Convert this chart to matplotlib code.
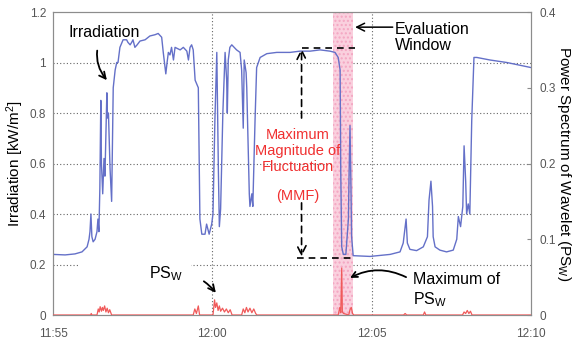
import matplotlib
matplotlib.use("Agg")
import matplotlib.pyplot as plt
from matplotlib.patches import Rectangle

plt.rcParams['font.family'] = ['Liberation Sans', 'DejaVu Sans']
plt.rcParams['mathtext.fontset'] = 'custom'
plt.rcParams['mathtext.rm'] = 'Liberation Sans'
plt.rcParams['mathtext.it'] = 'Liberation Sans'

# minutes after 11:55 and irradiation [kW/m2]
irr_t = [0.00, 0.38, 0.69, 0.91, 1.07, 1.13, 1.16, 1.19, 1.22, 1.26, 1.32, 1.38, 1.41, 1.44,
         1.47, 1.50, 1.52, 1.56, 1.60, 1.63, 1.69, 1.71, 1.74, 1.79, 1.84, 1.89, 1.95, 2.00,
         2.04, 2.10, 2.20, 2.31, 2.35, 2.42, 2.47, 2.51, 2.57, 2.64, 2.73, 2.89, 3.04, 3.20,
         3.30, 3.41, 3.46, 3.54, 3.58, 3.62, 3.67, 3.72, 3.78, 3.83, 3.99, 4.09, 4.20, 4.25,
         4.30, 4.35, 4.40, 4.46, 4.56, 4.61, 4.67, 4.77, 4.82, 4.90, 4.98, 5.02, 5.08, 5.14,
         5.19, 5.22, 5.26, 5.33, 5.40, 5.45, 5.47, 5.50, 5.55, 5.61, 5.76, 5.87, 5.92, 5.97,
         6.00, 6.06, 6.08, 6.16, 6.18, 6.24, 6.27, 6.34, 6.39, 6.50, 6.71, 7.02, 7.44, 7.75,
         8.07, 8.38, 8.69, 8.85, 8.95, 9.01, 9.03, 9.06, 9.11, 9.19, 9.27, 9.29, 9.32, 9.35,
         9.37, 9.42, 9.95, 10.58, 10.89, 10.99, 11.08, 11.12, 11.20, 11.41, 11.62, 11.75,
         11.80, 11.86, 11.91, 11.93, 11.99, 12.14, 12.35, 12.56, 12.67, 12.72, 12.79, 12.86,
         12.90, 12.95, 12.98, 13.03, 13.08, 13.14, 13.21, 13.30, 13.71, 14.24, 15.00]
irr_v = [0.240, 0.238, 0.242, 0.250, 0.270, 0.300, 0.330, 0.400, 0.310, 0.290, 0.300, 0.330,
         0.380, 0.330, 0.500, 0.850, 0.600, 0.480, 0.620, 0.550, 0.880, 0.780, 0.800, 0.580,
         0.450, 0.900, 0.970, 1.000, 1.000, 1.060, 1.090, 1.090, 1.080, 1.070, 1.080, 1.090,
         1.060, 1.070, 1.085, 1.090, 1.105, 1.110, 1.115, 1.100, 1.040, 0.955, 1.000, 1.040,
         1.030, 1.060, 1.010, 1.060, 1.050, 1.060, 1.045, 1.010, 1.060, 1.070, 1.050, 0.930,
         0.900, 0.380, 0.320, 0.320, 0.360, 0.320, 0.360, 0.400, 0.770, 1.040, 0.570, 0.350,
         0.420, 0.800, 1.040, 0.930, 0.800, 1.010, 1.060, 1.070, 1.050, 1.040, 0.970, 0.740,
         1.010, 0.960, 0.900, 0.480, 0.430, 0.480, 0.430, 0.770, 0.980, 1.020, 1.035, 1.040,
         1.040, 1.045, 1.045, 1.050, 1.045, 1.040, 1.020, 0.970, 0.570, 0.270, 0.240, 0.240,
         0.380, 0.550, 0.750, 0.510, 0.310, 0.235, 0.232, 0.240, 0.250, 0.285, 0.380, 0.285,
         0.260, 0.255, 0.270, 0.310, 0.455, 0.530, 0.430, 0.310, 0.270, 0.257, 0.250, 0.257,
         0.300, 0.390, 0.350, 0.430, 0.670, 0.530, 0.400, 0.440, 0.400, 0.770, 1.020, 1.020,
         1.010, 1.000, 0.980]

# wavelet power spectrum PS_W (right axis)
ps_t = [0.00, 1.18, 1.20, 1.22, 1.38, 1.42, 1.45, 1.48, 1.52, 1.55, 1.58, 1.62, 1.66, 1.70,
        1.74, 1.78, 1.84, 4.40, 4.45, 4.50, 4.56, 4.60, 5.02, 5.07, 5.10, 5.14, 5.18, 5.22,
        5.26, 5.32, 5.38, 5.44, 5.50, 5.56, 5.62, 5.92, 5.97, 6.02, 6.07, 6.12, 6.18, 6.24,
        6.30, 6.36, 6.40, 8.95, 9.00, 9.03, 9.06, 9.08, 9.12, 9.28, 9.32, 9.36, 9.40, 9.44,
        11.00, 11.05, 11.10, 11.62, 11.66, 11.70, 12.85, 12.90, 12.95, 13.00, 13.05, 13.10,
        13.15, 15.00]
ps_v = [0.0, 0.0, 0.002, 0.0, 0.0, 0.008, 0.004, 0.011, 0.005, 0.010, 0.006, 0.012, 0.004,
        0.009, 0.003, 0.007, 0.0, 0.0, 0.008, 0.002, 0.012, 0.0, 0.0, 0.020, 0.010, 0.016,
        0.006, 0.012, 0.005, 0.009, 0.004, 0.008, 0.003, 0.007, 0.0, 0.0, 0.008, 0.003, 0.010,
        0.004, 0.009, 0.003, 0.008, 0.002, 0.0, 0.0, 0.010, 0.003, 0.062, 0.004, 0.002, 0.0,
        0.007, 0.010, 0.002, 0.0, 0.0, 0.002, 0.0, 0.0, 0.004, 0.0, 0.0, 0.004, 0.002, 0.006,
        0.002, 0.005, 0.0, 0.0]

x_ticks = [0, 5, 10, 15]
x_labels = ["11:55", "12:00", "12:05", "12:10"]
window = (8.79, 9.40)

fig = plt.figure(figsize=(5.73, 3.40), dpi=100)
ax = fig.add_axes([0.0925, 0.0735, 0.8342, 0.8912])
ax2 = ax.twinx()

grey = '#8c8c8c'
for a in (ax, ax2):
    for s in a.spines.values():
        s.set_color(grey)

ax.set_xlim(0, 15)
ax.set_ylim(0, 1.2)
ax2.set_ylim(0, 0.4)
ax.set_xticks(x_ticks)
ax.set_xticklabels(x_labels)
ax.set_yticks([0, 0.2, 0.4, 0.6, 0.8, 1.0, 1.2])
ax.set_yticklabels(["0", "0.2", "0.4", "0.6", "0.8", "1", "1.2"])
ax2.set_yticks([0, 0.1, 0.2, 0.3, 0.4])
ax2.set_yticklabels(["0", "0.1", "0.2", "0.3", "0.4"])
ax.tick_params(axis='both', length=0, labelsize=8.5, labelcolor='#555555', pad=5)
ax.tick_params(axis='x', pad=9)
ax2.tick_params(axis='y', direction='in', length=3, color=grey, labelsize=8.5,
                labelcolor='#555555', pad=6)

for yv in [0.2, 0.4, 0.6, 0.8, 1.0]:
    ax.axhline(yv, color='#666666', lw=0.8, ls=(0, (1, 2)), zorder=1)
for xv in [5, 10]:
    ax.axvline(xv, color='#666666', lw=0.8, ls=(0, (1, 2)), zorder=1)
# the 0.2 grid line is hidden behind a label box in the original
ax.add_patch(Rectangle((0.85, 0.19), 3.45, 0.02, color='white', zorder=1.2))

ax.axvspan(window[0], window[1], facecolor='#fad0de', edgecolor='#f4a6c2', hatch='....',
           lw=0, zorder=1.5)

ax.plot(irr_t, irr_v, color='#6470c8', lw=1.0, zorder=3)
ax2.plot(ps_t, ps_v, color='#f05a5a', lw=0.9, zorder=3)

ax.set_ylabel("Irradiation [kW/m$^2$]", fontsize=11, va='center')
ax.yaxis.set_label_coords(-0.08, 0.5)
ax2.set_ylabel("Power Spectrum of Wavelet (PS$_\\mathrm{W}$)", fontsize=11,
               rotation=270, va='center')
ax2.yaxis.set_label_coords(1.07, 0.5)

ax2.set_zorder(ax.get_zorder() + 1)
ax2.patch.set_visible(False)

blk = dict(fontsize=11.5, color='black')
ax.annotate("Irradiation", xy=(1.69, 0.93), xytext=(1.60, 1.12), ha='center', va='center',
            arrowprops=dict(arrowstyle='->', color='black', lw=1.3, shrinkA=6, shrinkB=0,
                            connectionstyle='arc3,rad=0.35'), **blk)
ax.annotate("", xy=(9.48, 1.14), xytext=(10.66, 1.14),
            arrowprops=dict(arrowstyle='->', color='black', lw=1.1, shrinkA=0, shrinkB=0,
                            mutation_scale=14))
ax.text(10.73, 1.10, "Evaluation\nWindow", ha='left', va='center', linespacing=1.1, **blk)

# dashed range markers for MMF
ax.plot([7.81, 9.48], [1.059, 1.059], color='black', lw=1.2, ls=(0, (4, 3)), zorder=4)
ax.plot([7.65, 9.38], [0.227, 0.227], color='black', lw=1.2, ls=(0, (4, 3)), zorder=4)
ax.annotate("", xy=(7.80, 1.055), xytext=(7.80, 0.78),
            arrowprops=dict(arrowstyle='->', color='black', lw=1.2, ls=(0, (4, 3)),
                            shrinkA=0, shrinkB=0, mutation_scale=16))
ax.annotate("", xy=(7.80, 0.232), xytext=(7.80, 0.444),
            arrowprops=dict(arrowstyle='->', color='black', lw=1.2, ls=(0, (4, 3)),
                            shrinkA=0, shrinkB=0, mutation_scale=16))
red = '#f03030'
ax.text(7.69, 0.65, "Maximum\nMagnitude of\nFluctuation", ha='center', va='center',
        color=red, fontsize=10.5, linespacing=1.15, zorder=5)
ax.text(7.69, 0.47, "(MMF)", ha='center', va='center', color=red, fontsize=10.5, zorder=5)

ax.annotate("PS$_\\mathrm{W}$", xy=(5.11, 0.088), xytext=(3.55, 0.162), ha='center',
            va='center',
            arrowprops=dict(arrowstyle='->', color='black', lw=1.3, shrinkA=14, shrinkB=0,
                            connectionstyle='arc3,rad=-0.3'), **blk)
ax.annotate("", xy=(9.32, 0.147), xytext=(11.08, 0.150),
            arrowprops=dict(arrowstyle='->', color='black', lw=1.3, shrinkA=0, shrinkB=0,
                            connectionstyle='arc3,rad=0.25'))
ax.text(11.30, 0.139, "Maximum of", ha='left', va='center', **blk)
ax.text(11.30, 0.062, "PS$_\\mathrm{W}$", ha='left', va='center', **blk)

fig.savefig("out.png", dpi=100)
